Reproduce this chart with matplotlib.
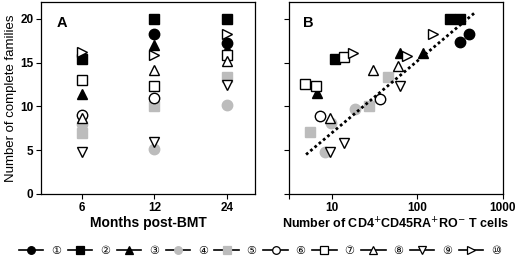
import numpy as np
import matplotlib
matplotlib.use("Agg")
import matplotlib.pyplot as plt
from matplotlib.lines import Line2D
from matplotlib.font_manager import FontProperties

plt.rcParams['font.family'] = ['Liberation Sans', 'DejaVu Sans']

# data: patients 1..10
labels = ['①', '②', '③', '④', '⑤', '⑥', '⑦', '⑧', '⑨', '⑩']
months = ['6', '12', '24']

# panel A: complete families at 6, 12, 24 months (nan = not measured)
fam_a = [
    [np.nan, 18.3, 17.2],   # 1
    [15.4, 20.0, 20.0],     # 2
    [11.4, 17.0, 16.6],     # 3
    [8.0, 5.1, 10.2],       # 4
    [7.0, 10.0, 13.3],      # 5
    [9.0, 11.0, np.nan],    # 6
    [13.0, 12.3, 15.9],     # 7
    [8.7, 14.2, 15.2],      # 8
    [4.8, 5.9, 12.4],       # 9
    [16.2, 15.9, 18.2],     # 10
]

# panel B: naive T cell count vs complete families
cells_b = [
    [316, 406],
    [10.9, 238, 316],
    [6.7, 62, 116],
    [9.7, 8.4, 18.7],
    [5.5, 27.4, 44.8],
    [7.2, 37],
    [4.9, 6.5, 13.7],
    [9.4, 30, 59.6],
    [9.6, 13.7, 63.4],
    [17.9, 76, 152],
]
fam_b = [
    [17.3, 18.3],
    [15.4, 20.0, 20.0],
    [11.5, 16.1, 16.1],
    [8.1, 4.75, 9.7],
    [7.05, 10.0, 13.3],
    [8.85, 10.8],
    [12.5, 12.3, 15.6],
    [8.7, 14.1, 14.6],
    [4.75, 5.8, 12.3],
    [16.1, 15.7, 18.2],
]

# dotted trend line endpoints
trend_x = [5.0, 470]
trend_y = [4.5, 20.7]

gray = '#bcbcbc'
styles = [
    dict(marker='o', mfc='black', mec='black'),
    dict(marker='s', mfc='black', mec='black'),
    dict(marker='^', mfc='black', mec='black'),
    dict(marker='o', mfc=gray, mec=gray),
    dict(marker='s', mfc=gray, mec=gray),
    dict(marker='o', mfc='white', mec='black'),
    dict(marker='s', mfc='white', mec='black'),
    dict(marker='^', mfc='white', mec='black'),
    dict(marker='v', mfc='white', mec='black'),
    dict(marker='>', mfc='white', mec='black'),
]

fig = plt.figure(figsize=(5.2, 2.59), dpi=100)
ax1 = fig.add_axes([0.0788, 0.251, 0.4115, 0.741])
ax2 = fig.add_axes([0.5558, 0.251, 0.4115, 0.741])

xpos = np.arange(1, len(months) + 1)
for vals, st in zip(fam_a, styles):
    ax1.plot(xpos, vals, ls='none', ms=7.5, mew=1.0, **st)
ax1.set_xlim(0.43, 3.39)
ax1.set_ylim(0, 21.9)
ax1.set_xticks(xpos)
ax1.set_xticklabels(months)
ax1.set_yticks([0, 5, 10, 15, 20])
ax1.set_xlabel('Months post-BMT', fontsize=10, fontweight='bold', labelpad=2)
ax1.set_ylabel('Number of complete families', fontsize=9.5, labelpad=2)
ax1.text(0.1, 0.89, 'A', transform=ax1.transAxes, fontsize=10.5,
         fontweight='bold', ha='center', va='center')

for xs, ys, st in zip(cells_b, fam_b, styles):
    ax2.plot(xs, ys, ls='none', ms=7.5, mew=1.0, **st)
ax2.plot(trend_x, trend_y, ls=(0, (1, 1.0)), color='black', lw=2)
ax2.set_xscale('log')
ax2.set_xlim(3.16, 1000)
ax2.set_ylim(0, 21.9)
ax2.set_xticks([3.16, 10, 100, 1000])
ax2.set_xticklabels(['', '10', '100', '1000'])
ax2.xaxis.set_minor_locator(matplotlib.ticker.NullLocator())
ax2.set_yticks([0, 5, 10, 15, 20])
ax2.set_yticklabels([])
ax2.set_xlabel('Number of CD4$^{+}$CD45RA$^{+}$RO$^{-}$ T cells', fontsize=9,
               fontweight='bold', labelpad=2)
ax2.text(0.09, 0.89, 'B', transform=ax2.transAxes, fontsize=10.5,
         fontweight='bold', ha='center', va='center')

for ax in (ax1, ax2):
    ax.tick_params(direction='out', length=3.5, width=0.8, labelsize=8.5, pad=2)
    for lab in ax.get_xticklabels() + ax.get_yticklabels():
        lab.set_fontweight('bold')
    for sp in ax.spines.values():
        sp.set_linewidth(0.9)

handles = [Line2D([], [], color='black', lw=1.2, ms=5.5, mew=0.9, **st) for st in styles]
fp = FontProperties(family=['DejaVu Sans', 'Noto Sans CJK JP'], size=8)
fig.legend(handles, labels, loc='center', bbox_to_anchor=(0.5, 0.031), ncol=10,
           frameon=False, prop=fp, handlelength=2.2, handletextpad=0.7,
           columnspacing=0.6, borderaxespad=0, borderpad=0)

fig.savefig('out.png', dpi=100)
